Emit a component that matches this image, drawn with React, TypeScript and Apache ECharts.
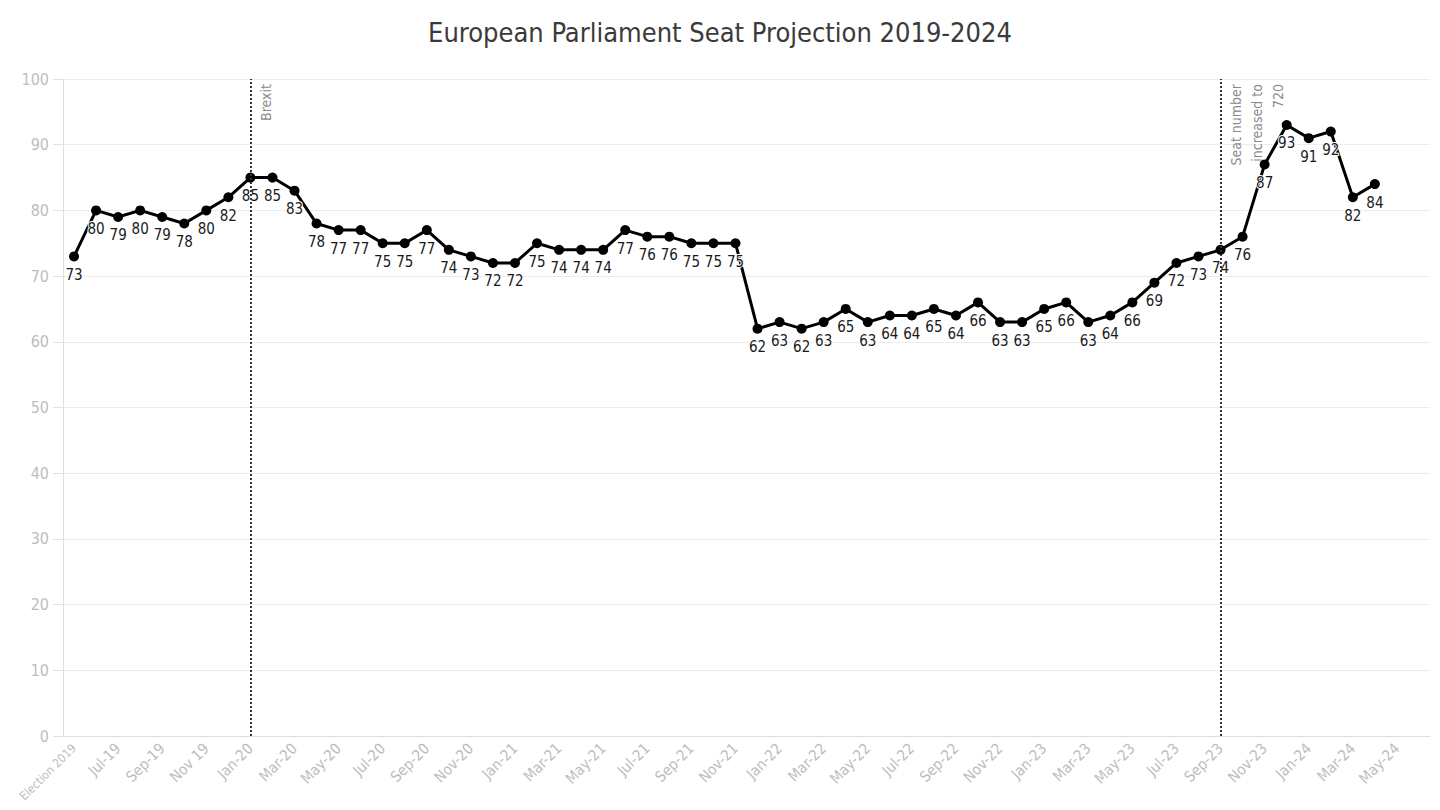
import { useEffect, useRef } from "react";
import * as echarts from "echarts";

// 类目：选举 + 2019-06 到 2024-06 的月份
const MONTHS = ["Jan", "Feb", "Mar", "Apr", "May", "Jun", "Jul", "Aug", "Sep", "Oct", "Nov", "Dec"];
const categories: string[] = ["Election 2019"];
for (let y = 19; y <= 24; y++) {
  for (let m = 0; m < 12; m++) {
    if (y === 19 && m < 5) continue;
    if (y === 24 && m > 5) continue;
    // 原图里 Nov 19 没有连字符
    categories.push(y === 19 && m === 10 ? "Nov 19" : `${MONTHS[m]}-${y}`);
  }
}

const seats = [
  73, 80, 79, 80, 79, 78, 80, 82, 85, 85, 83, 78, 77, 77, 75, 75, 77, 74, 73, 72,
  72, 75, 74, 74, 74, 77, 76, 76, 75, 75, 75, 62, 63, 62, 63, 65, 63, 64, 64, 65,
  64, 66, 63, 63, 65, 66, 63, 64, 66, 69, 72, 73, 74, 76, 87, 93, 91, 92, 82, 84,
];

const events = [
  { at: "Jan-20", text: "Brexit" },
  { at: "Sep-23", text: "Seat number\nincreased to\n720" },
];

const FONT = "'DejaVu Sans Condensed', 'DejaVu Sans', sans-serif";

function buildOption(): echarts.EChartsCoreOption {
  return {
    animation: false,
    title: {
      text: "European Parliament Seat Projection 2019-2024",
      left: "center",
      top: 14,
      textStyle: { fontFamily: FONT, fontSize: 27, fontWeight: 500, color: "#3a3a3a" },
    },
    grid: { left: 63, right: 10, top: 79, bottom: 74, outerBoundsMode: "none" },
    xAxis: {
      type: "category",
      data: categories,
      axisLine: { lineStyle: { color: "#dedede" } },
      axisTick: { alignWithLabel: true, interval: 0, length: 6, lineStyle: { color: "#e2e2e2" } },
      axisLabel: {
        interval: 1,
        rotate: 45,
        color: "#bdbdbd",
        fontFamily: FONT,
        fontSize: 15,
        margin: 10,
        // 第一个标签较长，缩小一点避免被左边缘裁掉
        formatter: (v: string, i: number) => (i === 0 ? `{first|${v}}` : v),
        rich: { first: { fontSize: 12, color: "#bdbdbd", fontFamily: FONT } },
      },
    },
    yAxis: {
      type: "value",
      min: 0,
      max: 100,
      interval: 10,
      axisLine: { show: true, lineStyle: { color: "#dedede" } },
      axisTick: { show: true, length: 10, lineStyle: { color: "#e2e2e2" } },
      axisLabel: { color: "#bdbdbd", fontFamily: FONT, fontSize: 16, margin: 14 },
      splitLine: { lineStyle: { color: "#ececec" } },
    },
    series: [
      {
        type: "line",
        data: seats,
        symbol: "circle",
        symbolSize: 10,
        itemStyle: { color: "#000" },
        lineStyle: { color: "#000", width: 3 },
        label: {
          show: true,
          position: "bottom",
          distance: 6,
          color: "#1a1a1a",
          fontFamily: FONT,
          fontSize: 15,
          textBorderColor: "#fff",
          textBorderWidth: 2,
        },
        markLine: {
          silent: true,
          symbol: "none",
          lineStyle: { type: "dotted", color: "#333", width: 2 },
          label: {
            show: true,
            position: "insideEndBottom",
            color: "#8a8a8a",
            fontFamily: FONT,
            fontSize: 14,
            lineHeight: 21,
            formatter: (p: { name?: string }) => p.name ?? "",
          },
          data: events.map((e) => ({ name: e.text, xAxis: e.at })),
        },
      },
    ],
  };
}

export default function App() {
  const chartRef = useRef<HTMLDivElement>(null);

  useEffect(() => {
    document.body.style.margin = "0";
    if (!chartRef.current) return;
    const chart = echarts.init(chartRef.current, undefined, { renderer: "svg" });
    chart.setOption(buildOption());
    return () => chart.dispose();
  }, []);

  return <div ref={chartRef} style={{ width: 1440, height: 810, background: "#fff" }} />;
}
